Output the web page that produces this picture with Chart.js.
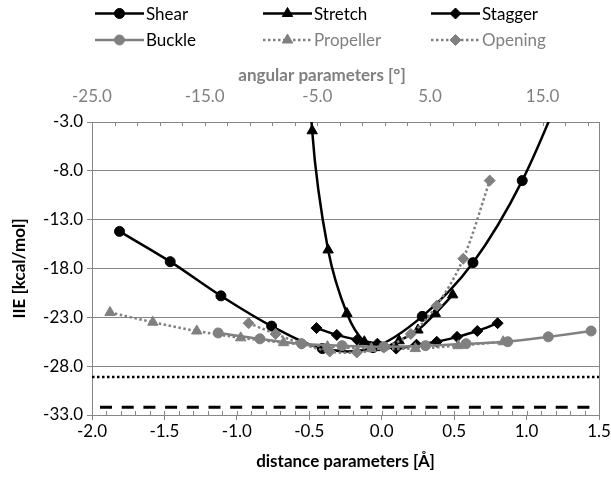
<!DOCTYPE html>
<html><head><meta charset="utf-8">
<script src="https://cdn.jsdelivr.net/npm/chart.js@4.4.1/dist/chart.umd.min.js"></script>
<style>html,body{margin:0;padding:0;background:#fff;}canvas{display:block;}</style>
</head><body>
<canvas id="c" width="611" height="477"></canvas>
<script>
// ---- data (distance parameters, Å) ----
const shearX   = [-1.81,-1.46,-1.11,-0.76,-0.41,-0.06,0.28,0.63,0.97,1.32];
const shearY   = [-14.2,-17.3,-20.8,-23.9,-26.2,-26.1,-22.9,-17.4,-9.0,3.0];
const stretchX = [-0.60,-0.48,-0.37,-0.24,-0.12,0.00,0.12,0.25,0.37,0.49];
const stretchY = [30.0,-3.9,-16.1,-22.6,-25.5,-26.1,-25.4,-24.3,-22.6,-20.7];
const staggerX = [-0.45,-0.31,-0.17,-0.03,0.10,0.24,0.38,0.52,0.66,0.80];
const staggerY = [-24.1,-24.8,-25.3,-25.7,-26.2,-25.8,-25.5,-25.0,-24.4,-23.6];
// ---- data (angular parameters, °) ----
const buckleX    = [-13.8,-10.1,-6.4,-2.8,0.9,4.6,8.2,11.9,15.5,19.3];
const buckleY    = [-24.6,-25.2,-25.7,-25.9,-26.0,-25.9,-25.7,-25.5,-25.0,-24.4];
const propellerX = [-23.4,-19.6,-15.7,-11.8,-8.0,-4.1,-0.2,3.7,7.5,11.5];
const propellerY = [-22.5,-23.5,-24.4,-25.1,-25.6,-26.0,-26.2,-26.2,-25.9,-25.5];
const openingX   = [-11.1,-8.7,-6.4,-3.9,-1.5,0.9,3.3,5.6,7.95,10.3];
const openingY   = [-23.6,-24.7,-25.7,-26.5,-26.6,-26.1,-24.7,-21.8,-17.0,-9.0];
// ---- reference levels ----
const refLineX  = [-2.0, 1.5];
const refDotted = -29.1;
const refDashed = -32.2;
// ---- axes ----
const yTicks   = [-33,-28,-23,-18,-13,-8,-3];
const xTicks   = [-2.0,-1.5,-1.0,-0.5,0.0,0.5,1.0,1.5];
const topTicks = [-25,-15,-5,5,15];
const xMinorStep = 0.1;
const topMinorStep = 2;

const BLACK = '#000000', GRAY = '#808080', GRID = '#868686';
const FONT = 'Lato';
const markerRadius = {circle: 5, triangle: 6, rectRot: 5.5};

function series(label, xs, ys, axis, color, style, dash, order, textColor) {
  return {
    label, data: xs.map((x, i) => ({x, y: ys[i]})), xAxisID: axis,
    borderColor: color, backgroundColor: color,
    pointBackgroundColor: color, pointBorderColor: color,
    pointStyle: style, pointRadius: markerRadius[style], pointHoverRadius: markerRadius[style], pointBorderWidth: 1,
    borderWidth: 2.5, borderDash: dash, borderCapStyle: 'butt',
    tension: 0.33, order, legendColor: textColor
  };
}
function refLine(yv, dash, offset, width, order) {
  return {
    label: '', data: refLineX.map(x => ({x, y: yv})), xAxisID: 'x',
    borderColor: BLACK, borderWidth: width, borderDash: dash, borderDashOffset: offset,
    pointRadius: 0, pointHoverRadius: 0, tension: 0, order
  };
}

const datasets = [
  series('Shear', shearX, shearY, 'x', BLACK, 'circle', [], 6, BLACK),
  series('Stretch', stretchX, stretchY, 'x', BLACK, 'triangle', [], 5, BLACK),
  series('Stagger', staggerX, staggerY, 'x', BLACK, 'rectRot', [], 4, BLACK),
  series('Buckle', buckleX, buckleY, 'x2', GRAY, 'circle', [], 3, BLACK),
  series('Propeller', propellerX, propellerY, 'x2', GRAY, 'triangle', [2.5, 2.5], 2, GRAY),
  series('Opening', openingX, openingY, 'x2', GRAY, 'rectRot', [2.5, 2.5], 1, GRAY),
  refLine(refDotted, [2.5, 2.5], 0, 2.5, 7),
  refLine(refDashed, [12, 9.7], 13.7, 3, 8)
];

function crisp(v) { return Math.round(v) + 0.5; }

const decor = {
  id: 'decor',
  afterDraw(chart) {
    const {ctx, chartArea: a, scales} = chart;
    ctx.save();
    ctx.strokeStyle = GRID; ctx.lineWidth = 1; ctx.setLineDash([]);
    ctx.beginPath();
    // right border
    ctx.moveTo(crisp(a.right), a.top); ctx.lineTo(crisp(a.right), a.bottom + 5);
    // bottom minor ticks (inside)
    const sx = scales.x;
    for (let v = sx.min; v <= sx.max + 1e-9; v += xMinorStep) {
      const px = crisp(sx.getPixelForValue(v));
      ctx.moveTo(px, a.bottom); ctx.lineTo(px, a.bottom - 4);
    }
    // top minor ticks (inside)
    const st = scales.x2;
    for (let v = st.min; v <= st.max + 1e-9; v += topMinorStep) {
      const px = crisp(st.getPixelForValue(v));
      ctx.moveTo(px, a.top); ctx.lineTo(px, a.top + 4);
    }
    ctx.stroke();

    // top axis title
    ctx.fillStyle = GRAY;
    ctx.font = 'bold 17px ' + FONT;
    ctx.textAlign = 'center'; ctx.textBaseline = 'middle';
    ctx.fillText('angular parameters [°]', 322, 76);

    // legend
    const colX = [95, 263, 431], rowY = [13.5, 40], lineLen = 49;
    ctx.font = '17px ' + FONT; ctx.textAlign = 'left';
    chart.data.datasets.filter(d => d.legendColor).forEach((d, i) => {
      const x0 = colX[i % 3], y0 = rowY[Math.floor(i / 3)];
      ctx.strokeStyle = d.borderColor; ctx.lineWidth = d.borderWidth;
      ctx.setLineDash(d.borderDash); ctx.lineCap = 'butt';
      ctx.beginPath(); ctx.moveTo(x0, y0); ctx.lineTo(x0 + lineLen, y0); ctx.stroke();
      ctx.setLineDash([]);
      ctx.fillStyle = d.pointBackgroundColor; ctx.strokeStyle = d.pointBorderColor; ctx.lineWidth = 1;
      Chart.helpers.drawPoint(ctx, {pointStyle: d.pointStyle, radius: d.pointRadius, rotation: 0, borderWidth: 1}, x0 + lineLen / 2, y0);
      ctx.fillStyle = d.legendColor;
      ctx.fillText(d.label, x0 + lineLen + 2, y0 + 1);
    });
    ctx.restore();
  }
};

new Chart(document.getElementById('c'), {
  type: 'line',
  data: {datasets},
  plugins: [decor],
  options: {
    responsive: false, animation: false,
    layout: {padding: {left: 0, right: 12, top: 62, bottom: 0}},
    plugins: {legend: {display: false}, tooltip: {enabled: false}},
    scales: {
      x: {
        type: 'linear', position: 'bottom', min: -2, max: 1.5,
        afterBuildTicks: s => { s.ticks = xTicks.map(v => ({value: v})); },
        afterFit: s => { s.height = 62; s.paddingLeft = 0; s.paddingRight = 0; },
        ticks: {callback: v => Number(v).toFixed(1), color: BLACK, font: {family: FONT, size: 17}, padding: 1, maxRotation: 0, autoSkip: false},
        grid: {drawOnChartArea: false, drawTicks: true, tickLength: 5, color: GRID, lineWidth: 1},
        border: {display: true, color: GRID, width: 1},
        title: {display: true, text: 'distance parameters [Å]', color: BLACK, font: {family: FONT, size: 17, weight: 'bold'}, padding: {top: 0, bottom: 5}}
      },
      x2: {
        type: 'linear', position: 'top', min: -25, max: 20,
        afterBuildTicks: s => { s.ticks = topTicks.map(v => ({value: v})); },
        afterFit: s => { s.height = 60; s.paddingLeft = 0; s.paddingRight = 0; },
        ticks: {callback: v => Number(v).toFixed(1), color: GRAY, font: {family: FONT, size: 17}, padding: 15, maxRotation: 0, autoSkip: false},
        grid: {display: true, drawOnChartArea: false, drawTicks: false, color: GRID},
        border: {display: true, color: GRID, width: 1}
      },
      y: {
        type: 'linear', position: 'left', min: -33, max: -3,
        afterBuildTicks: s => { s.ticks = yTicks.map(v => ({value: v})); },
        afterFit: s => { s.width = 92; s.paddingTop = 0; s.paddingBottom = 0; },
        ticks: {callback: v => Number(v).toFixed(1), color: BLACK, font: {family: FONT, size: 17}, padding: 4},
        grid: {drawOnChartArea: true, drawTicks: true, tickLength: 5, color: GRID, lineWidth: 1},
        border: {display: true, color: GRID, width: 1},
        title: {display: true, text: 'IIE [kcal/mol]', color: BLACK, font: {family: FONT, size: 17, weight: 'bold'}, padding: {top: 9, bottom: 0}}
      }
    }
  }
});
</script>
</body></html>
